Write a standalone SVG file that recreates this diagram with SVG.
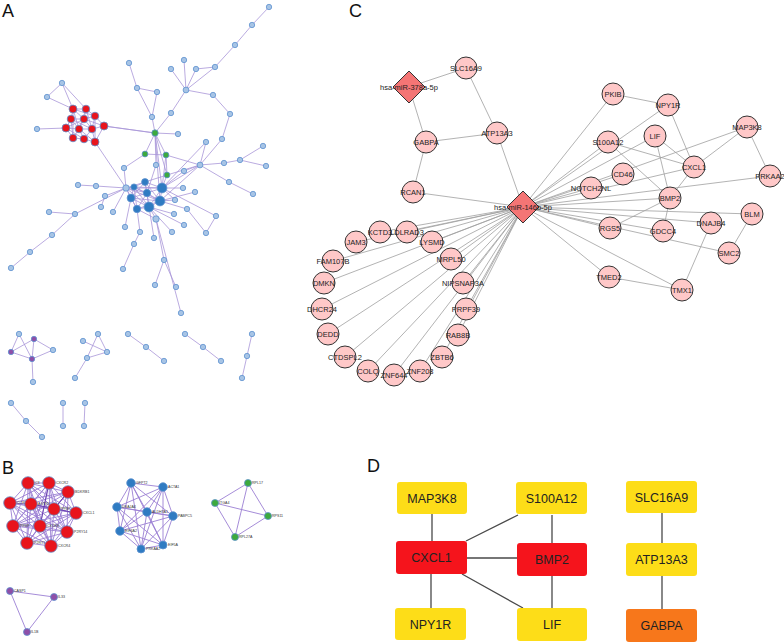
<svg xmlns="http://www.w3.org/2000/svg" width="784" height="644" viewBox="0 0 784 644">
<style>
.pl{font-family:"Liberation Sans",Arial,sans-serif;font-size:18px;fill:#111}
.ea{stroke:#A895D8;stroke-width:0.8;fill:none}
.eb{stroke:#9B7FD4;stroke-width:0.9;fill:none}
.ec{stroke:#A0A0A0;stroke-width:0.8;fill:none}
.ed{stroke:#4A4A4A;stroke-width:1.3;fill:none}
.lt{fill:#A7C4E5;stroke:#5E92CF;stroke-width:0.8}
.gr{fill:#3DAA3D;stroke:#5E92CF;stroke-width:0.8}
.rd{fill:#E8141C;stroke:#5E92CF;stroke-width:0.8}
.bl{fill:#2F7BC2;stroke:#5E92CF;stroke-width:0.8}
.pu{fill:#8E4FA8;stroke:#5E92CF;stroke-width:0.8}
.tb{font-family:"Liberation Sans",Arial,sans-serif;font-size:3.6px;fill:#333}
.cn{fill:#FFC8C8;stroke:#333;stroke-width:1}
.dm{fill:#F47575;stroke:#333;stroke-width:1}
.tc{font-family:"Liberation Sans",Arial,sans-serif;font-size:7.5px;fill:#222;text-anchor:middle}
.ty{fill:#FDDD18}
.tr{fill:#F5141C}
.to{fill:#F7771B}
.td{font-family:"Liberation Sans",Arial,sans-serif;font-size:12.5px;fill:#222;text-anchor:middle}
</style>

<text class="pl" x="2" y="17">A</text>
<text class="pl" x="2" y="474">B</text>
<text class="pl" x="349" y="17">C</text>
<text class="pl" x="367" y="472">D</text>

<!-- ===== Panel A connectors ===== -->
<g id="connectors-A">
<path class="ea" d="M269 7L252 25M252 25L235 45M235 45L215 67M215 67L196 69M215 67L186 90M186 90L184 60M186 90L171 69M186 90L196 69M186 90L213 95M213 95L230 114M230 114L222 139M222 139L200 165M186 90L171 113M171 113L155 133M129 63L137 88M137 88L157 92M137 88L152 117M152 117L155 133M155 133L178 134M155 133L145 154M155 133L166 155M155 133L167 175M155 133L104 126M155 133L162 188M155 133L160 201M145 154L166 155M145 154L124 168M124 168L126 188M166 155L200 165M166 155L167 175M166 155L162 188M167 175L162 188M167 175L145 182M167 175L200 165M156 165L147 193M156 165L155 133M200 165L206 142M200 165L224 163M224 163L240 160M240 160L263 146M240 160L266 166M200 165L229 182M229 182L253 194M200 165L184 171M200 165L162 188M200 165L160 201M206 142L162 188M184 171L162 188M183 188L162 188M195 192L160 201M175 200L160 201M175 200L162 188M187 209L160 201M216 216L206 233M206 233L187 209M216 216L162 188M174 214L149 207M184 225L149 207M172 232L149 207M156 219L149 207M156 219L137 209M154 238L149 207M156 219L164 260M164 260L155 285M164 260L176 287M156 219L181 313M140 232L137 209M140 232L134 244M134 244L123 269M125 227L131 198M113 212L126 188M101 207L105 196M105 196L126 188M96 186L126 188M96 186L78 185M126 188L75 214M75 214L49 212M75 214L52 235M52 235L30 252M30 252L11 268M95 142L126 188M126 188L134 187M126 188L131 198M126 188L162 188M126 188L145 182M126 188L147 193M126 188L160 201M126 188L149 207M126 188L137 209M157 92L152 117"/>
<path class="ea" d="M134 187L145 182M134 187L162 188M134 187L147 193M134 187L131 198M134 187L160 201M134 187L149 207M134 187L137 209M145 182L162 188M145 182L147 193M145 182L131 198M145 182L160 201M145 182L149 207M162 188L147 193M162 188L160 201M162 188L149 207M147 193L131 198M147 193L160 201M147 193L149 207M147 193L137 209M131 198L160 201M131 198L149 207M131 198L137 209M160 201L149 207M160 201L137 209M149 207L137 209"/>
<path class="ea" d="M62 83L47 97M62 83L73 109M47 97L73 109M37 129L66 128M62 83L86 109M73 109L86 109M73 109L71 119M73 109L84 119M73 109L95 116M73 109L79 129M86 109L84 119M86 109L95 116M86 109L92 129M71 119L84 119M71 119L66 128M71 119L79 129M71 119L73 138M84 119L95 116M84 119L79 129M84 119L92 129M84 119L104 126M95 116L92 129M95 116L104 126M66 128L79 129M66 128L73 138M66 128L84 139M79 129L92 129M79 129L73 138M79 129L84 139M79 129L95 142M92 129L104 126M92 129L84 139M92 129L95 142M104 126L95 142M73 138L84 139M84 139L95 142M71 119L92 129M86 109L79 129M66 128L84 119M95 116L95 142M73 109L73 138M104 126L155 133"/>
<path class="ea" d="M19 334L11 352M19 334L32 359M34 339L11 352M34 339L32 359M34 339L53 350M11 352L32 359M32 359L53 350M32 359L33 382M98 334L107 352M98 334L87 358M83 341L107 352M107 352L87 358M87 358L75 378M128 334L146 347M146 347L164 361M185 334L203 347M203 347L221 361M252 334L247 356M247 356L242 378M11 403L26 421M26 421L42 437M63 403L63 426M85 403L84 426"/>
</g>

<!-- ===== Panel A nodes ===== -->
<g id="nodes-A">
<g id="a-light">
<circle class="lt" cx="269" cy="7" r="2.7"/><circle class="lt" cx="252" cy="25" r="2.7"/><circle class="lt" cx="235" cy="45" r="2.7"/><circle class="lt" cx="215" cy="67" r="2.7"/><circle class="lt" cx="186" cy="90" r="2.9"/><circle class="lt" cx="184" cy="60" r="2.7"/><circle class="lt" cx="171" cy="69" r="2.7"/><circle class="lt" cx="196" cy="69" r="2.7"/><circle class="lt" cx="213" cy="95" r="2.7"/><circle class="lt" cx="230" cy="114" r="2.7"/><circle class="lt" cx="222" cy="139" r="2.7"/><circle class="lt" cx="171" cy="113" r="2.7"/><circle class="lt" cx="129" cy="63" r="2.7"/><circle class="lt" cx="137" cy="88" r="2.7"/><circle class="lt" cx="157" cy="92" r="2.7"/><circle class="lt" cx="152" cy="117" r="2.7"/><circle class="lt" cx="178" cy="134" r="2.7"/><circle class="lt" cx="156" cy="165" r="2.7"/><circle class="lt" cx="124" cy="168" r="2.7"/><circle class="lt" cx="200" cy="165" r="2.9"/><circle class="lt" cx="206" cy="142" r="2.7"/><circle class="lt" cx="224" cy="163" r="2.7"/><circle class="lt" cx="240" cy="160" r="2.7"/><circle class="lt" cx="263" cy="146" r="2.7"/><circle class="lt" cx="266" cy="166" r="2.7"/><circle class="lt" cx="229" cy="182" r="2.7"/><circle class="lt" cx="253" cy="194" r="2.7"/><circle class="lt" cx="184" cy="171" r="2.7"/><circle class="lt" cx="183" cy="188" r="2.7"/><circle class="lt" cx="195" cy="192" r="2.7"/><circle class="lt" cx="175" cy="200" r="2.7"/><circle class="lt" cx="187" cy="209" r="2.7"/><circle class="lt" cx="216" cy="216" r="2.7"/><circle class="lt" cx="206" cy="233" r="2.7"/><circle class="lt" cx="174" cy="214" r="2.7"/><circle class="lt" cx="184" cy="225" r="2.7"/><circle class="lt" cx="172" cy="232" r="2.7"/><circle class="lt" cx="156" cy="219" r="3.2"/><circle class="lt" cx="154" cy="238" r="2.7"/><circle class="lt" cx="164" cy="260" r="2.7"/><circle class="lt" cx="155" cy="285" r="2.7"/><circle class="lt" cx="176" cy="287" r="2.7"/><circle class="lt" cx="181" cy="313" r="2.7"/><circle class="lt" cx="140" cy="232" r="2.7"/><circle class="lt" cx="134" cy="244" r="2.7"/><circle class="lt" cx="123" cy="269" r="2.7"/><circle class="lt" cx="125" cy="227" r="2.7"/><circle class="lt" cx="113" cy="212" r="2.7"/><circle class="lt" cx="101" cy="207" r="2.7"/><circle class="lt" cx="105" cy="196" r="2.7"/><circle class="lt" cx="96" cy="186" r="2.7"/><circle class="lt" cx="78" cy="185" r="2.7"/><circle class="lt" cx="75" cy="214" r="2.7"/><circle class="lt" cx="49" cy="212" r="2.7"/><circle class="lt" cx="52" cy="235" r="2.7"/><circle class="lt" cx="30" cy="252" r="2.7"/><circle class="lt" cx="11" cy="268" r="2.7"/><circle class="lt" cx="126" cy="188" r="3.2"/><circle class="lt" cx="62" cy="83" r="2.7"/><circle class="lt" cx="47" cy="97" r="2.7"/><circle class="lt" cx="37" cy="129" r="2.7"/>
<circle class="lt" cx="19" cy="334" r="2.7"/><circle class="lt" cx="53" cy="350" r="2.7"/><circle class="lt" cx="33" cy="382" r="2.7"/><circle class="lt" cx="98" cy="334" r="2.7"/><circle class="lt" cx="83" cy="341" r="2.7"/><circle class="lt" cx="107" cy="352" r="2.7"/><circle class="lt" cx="87" cy="358" r="2.7"/><circle class="lt" cx="75" cy="378" r="2.7"/><circle class="lt" cx="128" cy="334" r="2.7"/><circle class="lt" cx="146" cy="347" r="2.7"/><circle class="lt" cx="164" cy="361" r="2.7"/><circle class="lt" cx="185" cy="334" r="2.7"/><circle class="lt" cx="203" cy="347" r="2.7"/><circle class="lt" cx="221" cy="361" r="2.7"/><circle class="lt" cx="252" cy="334" r="2.7"/><circle class="lt" cx="247" cy="356" r="2.7"/><circle class="lt" cx="242" cy="378" r="2.7"/><circle class="lt" cx="11" cy="403" r="2.7"/><circle class="lt" cx="26" cy="421" r="2.7"/><circle class="lt" cx="42" cy="437" r="2.7"/><circle class="lt" cx="63" cy="403" r="2.7"/><circle class="lt" cx="63" cy="426" r="2.7"/><circle class="lt" cx="85" cy="403" r="2.7"/><circle class="lt" cx="84" cy="426" r="2.7"/>
</g>
<g id="a-green"><circle class="gr" cx="155" cy="133" r="3.2"/><circle class="gr" cx="145" cy="154" r="2.9"/><circle class="gr" cx="166" cy="155" r="2.9"/><circle class="gr" cx="167" cy="175" r="2.9"/></g>
<g id="a-purple"><circle class="pu" cx="34" cy="339" r="2.7"/><circle class="pu" cx="11" cy="352" r="2.7"/><circle class="pu" cx="32" cy="359" r="2.7"/></g>
<g id="a-blue"><circle class="bl" cx="134" cy="187" r="3.1"/><circle class="bl" cx="145" cy="182" r="3.4"/><circle class="bl" cx="162" cy="188" r="4.9"/><circle class="bl" cx="147" cy="193" r="3.7"/><circle class="bl" cx="131" cy="198" r="3.9"/><circle class="bl" cx="160" cy="201" r="4.9"/><circle class="bl" cx="149" cy="207" r="4.9"/><circle class="bl" cx="137" cy="209" r="3.7"/></g>
<g id="a-red"><circle class="rd" cx="73" cy="109" r="4"/><circle class="rd" cx="86" cy="109" r="3.8"/><circle class="rd" cx="71" cy="119" r="3.8"/><circle class="rd" cx="84" cy="119" r="3.8"/><circle class="rd" cx="95" cy="116" r="3.8"/><circle class="rd" cx="66" cy="128" r="4"/><circle class="rd" cx="79" cy="129" r="3.8"/><circle class="rd" cx="92" cy="129" r="3.8"/><circle class="rd" cx="104" cy="126" r="4"/><circle class="rd" cx="73" cy="138" r="3.8"/><circle class="rd" cx="84" cy="139" r="3.8"/><circle class="rd" cx="95" cy="142" r="4"/></g>
</g>

<!-- ===== Panel B ===== -->
<g id="connectors-B">
<path class="eb" d="M28 483L49 483M28 483L68 492M28 483L10 503M28 483L31 504M28 483L54 509M28 483L76 513M28 483L13 526M28 483L40 526M28 483L67 532M28 483L27 543M28 483L51 546M49 483L68 492M49 483L10 503M49 483L31 504M49 483L54 509M49 483L76 513M49 483L13 526M49 483L40 526M49 483L67 532M49 483L27 543M49 483L51 546M68 492L10 503M68 492L31 504M68 492L54 509M68 492L76 513M68 492L13 526M68 492L40 526M68 492L67 532M68 492L27 543M68 492L51 546M10 503L31 504M10 503L54 509M10 503L76 513M10 503L13 526M10 503L40 526M10 503L67 532M10 503L27 543M10 503L51 546M31 504L54 509M31 504L76 513M31 504L13 526M31 504L40 526M31 504L67 532M31 504L27 543M31 504L51 546M54 509L76 513M54 509L13 526M54 509L40 526M54 509L67 532M54 509L27 543M54 509L51 546M76 513L13 526M76 513L40 526M76 513L67 532M76 513L27 543M76 513L51 546M13 526L40 526M13 526L67 532M13 526L27 543M13 526L51 546M40 526L67 532M40 526L27 543M40 526L51 546M67 532L27 543M67 532L51 546M27 543L51 546"/>
<path d="M49 483L40 526M68 492L54 509M31 504L76 513" stroke="#6A3FB0" stroke-width="1" fill="none"/>
<path class="eb" d="M131 483L163 487M131 483L117 507M131 483L147 512M131 483L173 516M131 483L120 531M131 483L163 545M131 483L141 549M163 487L117 507M163 487L147 512M163 487L173 516M163 487L120 531M163 487L163 545M163 487L141 549M117 507L147 512M117 507L173 516M117 507L120 531M117 507L163 545M117 507L141 549M147 512L173 516M147 512L120 531M147 512L163 545M147 512L141 549M173 516L120 531M173 516L163 545M173 516L141 549M120 531L163 545M120 531L141 549M163 545L141 549"/>
<path class="eb" d="M248 483L215 503M248 483L268 516M248 483L235 537M215 503L268 516M215 503L235 537M268 516L235 537M10 591L54 597M10 591L27 632M54 597L27 632"/>
</g>
<g id="nodes-B">
<g id="b-C3"><circle class="rd" cx="28" cy="483" r="6.3"/><text class="tb" x="35" y="484">C3</text></g>
<g id="b-CXCR2"><circle class="rd" cx="49" cy="483" r="6.3"/><text class="tb" x="56" y="484">CXCR2</text></g>
<g id="b-BDKRB1"><circle class="rd" cx="68" cy="492" r="6.3"/><text class="tb" x="75" y="493">BDKRB1</text></g>
<g id="b-CCR2"><circle class="rd" cx="10" cy="503" r="6.3"/><text class="tb" x="17" y="504">CCR2</text></g>
<g id="b-AGTR1"><circle class="rd" cx="31" cy="504" r="6.3"/><text class="tb" x="38" y="505">AGTR1</text></g>
<g id="b-PPBP"><circle class="rd" cx="54" cy="509" r="6.3"/><text class="tb" x="61" y="510">PPBP</text></g>
<g id="b-CXCL1"><circle class="rd" cx="76" cy="513" r="6.3"/><text class="tb" x="83" y="514">CXCL1</text></g>
<g id="b-PF4"><circle class="rd" cx="13" cy="526" r="6.3"/><text class="tb" x="20" y="527">PPBP</text></g>
<g id="b-CXCR6"><circle class="rd" cx="40" cy="526" r="6.3"/><text class="tb" x="47" y="527">CXCR6</text></g>
<g id="b-P2RY14"><circle class="rd" cx="67" cy="532" r="6.3"/><text class="tb" x="74" y="533">P2RY14</text></g>
<g id="b-P2RY1"><circle class="rd" cx="27" cy="543" r="6.3"/><text class="tb" x="34" y="544">P2RY1</text></g>
<g id="b-CXCR4"><circle class="rd" cx="51" cy="546" r="6.3"/><text class="tb" x="58" y="547">CXCR4</text></g>
<g id="b-GFPT2"><circle class="bl" cx="131" cy="483" r="4.3"/><text class="tb" x="136" y="484">GFPT2</text></g>
<g id="b-ACTA1"><circle class="bl" cx="163" cy="487" r="4.3"/><text class="tb" x="168" y="488">ACTA1</text></g>
<g id="b-DNAJA4"><circle class="bl" cx="117" cy="507" r="4.3"/><text class="tb" x="122" y="508">DNAJA4</text></g>
<g id="b-ALDH7A1"><circle class="bl" cx="147" cy="512" r="4.3"/><text class="tb" x="152" y="513">ALDH7A1</text></g>
<g id="b-PABPC5"><circle class="bl" cx="173" cy="516" r="4.3"/><text class="tb" x="178" y="517">PABPC5</text></g>
<g id="b-EIF4A2"><circle class="bl" cx="120" cy="531" r="4.3"/><text class="tb" x="125" y="532">EIF4A2</text></g>
<g id="b-EIF5A"><circle class="bl" cx="163" cy="545" r="4"/><text class="tb" x="168" y="546">EIF5A</text></g>
<g id="b-PRKAA2"><circle class="bl" cx="141" cy="549" r="4"/><text class="tb" x="146" y="550">PRKAA2</text></g>
<g id="b-RPL17"><circle class="gr" cx="248" cy="483" r="3.5"/><text class="tb" x="252" y="484">RPL17</text></g>
<g id="b-ITGA4"><circle class="gr" cx="215" cy="503" r="3.5"/><text class="tb" x="219" y="504">ITGA4</text></g>
<g id="b-RPS11"><circle class="gr" cx="268" cy="516" r="3.5"/><text class="tb" x="272" y="517">RPS11</text></g>
<g id="b-RPL27A"><circle class="gr" cx="235" cy="537" r="3.5"/><text class="tb" x="239" y="538">RPL27A</text></g>
<g id="b-CASP1"><circle class="pu" cx="10" cy="591" r="3.5"/><text class="tb" x="14" y="592">CASP1</text></g>
<g id="b-IL33"><circle class="pu" cx="54" cy="597" r="3.5"/><text class="tb" x="58" y="598">IL33</text></g>
<g id="b-IL1B"><circle class="pu" cx="27" cy="632" r="3.5"/><text class="tb" x="31" y="633">IL1B</text></g>
</g>

<!-- ===== Panel C ===== -->
<g id="connectors-C">
<path class="ec" d="M409 87L466 68M409 87L426 142M466 68L497 133M426 142L497 133M426 142L413 192M497 133L523 207M413 192L523 207M613 94L668 105M668 105L694 167M747 127L694 167M747 127L770 176M608 142L694 167M608 142L670 198M655 136L694 167M655 136L670 198M694 167L670 198M670 198L610 228M670 198L663 231M711 223L682 290M752 214L729 253M609 277L682 290"/>
<path class="ec" d="M523 207L613 94M523 207L668 105M523 207L608 142M523 207L655 136M523 207L623 174M523 207L694 167M523 207L747 127M523 207L591 188M523 207L670 198M523 207L770 176M523 207L752 214M523 207L711 223M523 207L610 228M523 207L663 231M523 207L729 253M523 207L609 277M523 207L682 290M523 207L380 232M523 207L407 232M523 207L356 242M523 207L432 242M523 207L333 261M523 207L451 259M523 207L324 283M523 207L463 283M523 207L322 309M523 207L466 309M523 207L328 334M523 207L458 335M523 207L345 357M523 207L442 357M523 207L368 371M523 207L420 371M523 207L394 375"/>
</g>
<g id="nodes-C">
<g id="c-miR378"><polygon class="dm" points="409,71 425,87 409,103 393,87"/><text class="tc" x="409" y="90">hsa-miR-378a-5p</text></g>
<g id="c-miR146"><polygon class="dm" points="523,191 539,207 523,223 507,207"/><text class="tc" x="523" y="210">hsa-miR-146b-5p</text></g>
<g id="c-SLC16A9"><circle class="cn" cx="466" cy="68" r="11"/><text class="tc" x="466" y="71">SLC16A9</text></g>
<g id="c-GABPA"><circle class="cn" cx="426" cy="142" r="11"/><text class="tc" x="426" y="145">GABPA</text></g>
<g id="c-ATP13A3"><circle class="cn" cx="497" cy="133" r="11"/><text class="tc" x="497" y="136">ATP13A3</text></g>
<g id="c-RCAN1"><circle class="cn" cx="413" cy="192" r="11"/><text class="tc" x="413" y="195">RCAN1</text></g>
<g id="c-PKIB"><circle class="cn" cx="613" cy="94" r="11"/><text class="tc" x="613" y="97">PKIB</text></g>
<g id="c-NPY1R"><circle class="cn" cx="668" cy="105" r="11"/><text class="tc" x="668" y="108">NPY1R</text></g>
<g id="c-MAP3K8"><circle class="cn" cx="747" cy="127" r="11"/><text class="tc" x="747" y="130">MAP3K8</text></g>
<g id="c-S100A12"><circle class="cn" cx="608" cy="142" r="11"/><text class="tc" x="608" y="145">S100A12</text></g>
<g id="c-LIF"><circle class="cn" cx="655" cy="136" r="11"/><text class="tc" x="655" y="139">LIF</text></g>
<g id="c-CXCL1"><circle class="cn" cx="694" cy="167" r="11"/><text class="tc" x="694" y="170">CXCL1</text></g>
<g id="c-CD46"><circle class="cn" cx="623" cy="174" r="11"/><text class="tc" x="623" y="177">CD46</text></g>
<g id="c-PRKAA2"><circle class="cn" cx="770" cy="176" r="11"/><text class="tc" x="770" y="179">PRKAA2</text></g>
<g id="c-NOTCH2NL"><circle class="cn" cx="591" cy="188" r="11"/><text class="tc" x="591" y="191">NOTCH2NL</text></g>
<g id="c-BMP2"><circle class="cn" cx="670" cy="198" r="11"/><text class="tc" x="670" y="201">BMP2</text></g>
<g id="c-BLM"><circle class="cn" cx="752" cy="214" r="11"/><text class="tc" x="752" y="217">BLM</text></g>
<g id="c-DNAJB4"><circle class="cn" cx="711" cy="223" r="11"/><text class="tc" x="711" y="226">DNAJB4</text></g>
<g id="c-RGS5"><circle class="cn" cx="610" cy="228" r="11"/><text class="tc" x="610" y="231">RGS5</text></g>
<g id="c-GDCC4"><circle class="cn" cx="663" cy="231" r="11"/><text class="tc" x="663" y="234">GDCC4</text></g>
<g id="c-SMC2"><circle class="cn" cx="729" cy="253" r="11"/><text class="tc" x="729" y="256">SMC2</text></g>
<g id="c-TMED2"><circle class="cn" cx="609" cy="277" r="11"/><text class="tc" x="609" y="280">TMED2</text></g>
<g id="c-TMX1"><circle class="cn" cx="682" cy="290" r="11"/><text class="tc" x="682" y="293">TMX1</text></g>
<g id="c-KCTD3"><circle class="cn" cx="380" cy="232" r="11"/><text class="tc" x="380" y="235">KCTD3</text></g>
<g id="c-LDLRAD3"><circle class="cn" cx="407" cy="232" r="11"/><text class="tc" x="407" y="235">LDLRAD3</text></g>
<g id="c-JAM3"><circle class="cn" cx="356" cy="242" r="11"/><text class="tc" x="356" y="245">JAM3</text></g>
<g id="c-LYSMD"><circle class="cn" cx="432" cy="242" r="11"/><text class="tc" x="432" y="245">LYSMD</text></g>
<g id="c-FAM107B"><circle class="cn" cx="333" cy="261" r="11"/><text class="tc" x="333" y="264">FAM107B</text></g>
<g id="c-MRPL50"><circle class="cn" cx="451" cy="259" r="11"/><text class="tc" x="451" y="262">MRPL50</text></g>
<g id="c-DMKN"><circle class="cn" cx="324" cy="283" r="11"/><text class="tc" x="324" y="286">DMKN</text></g>
<g id="c-NIPSNAP3A"><circle class="cn" cx="463" cy="283" r="11"/><text class="tc" x="463" y="286">NIPSNAP3A</text></g>
<g id="c-DHCR24"><circle class="cn" cx="322" cy="309" r="11"/><text class="tc" x="322" y="312">DHCR24</text></g>
<g id="c-PRPF39"><circle class="cn" cx="466" cy="309" r="11"/><text class="tc" x="466" y="312">PRPF39</text></g>
<g id="c-DEDD"><circle class="cn" cx="328" cy="334" r="11"/><text class="tc" x="328" y="337">DEDD</text></g>
<g id="c-RAB8B"><circle class="cn" cx="458" cy="335" r="11"/><text class="tc" x="458" y="338">RAB8B</text></g>
<g id="c-CTDSPL2"><circle class="cn" cx="345" cy="357" r="11"/><text class="tc" x="345" y="360">CTDSPL2</text></g>
<g id="c-ZBTB6"><circle class="cn" cx="442" cy="357" r="11"/><text class="tc" x="442" y="360">ZBTB6</text></g>
<g id="c-COLQ"><circle class="cn" cx="368" cy="371" r="11"/><text class="tc" x="368" y="374">COLQ</text></g>
<g id="c-ZNF208"><circle class="cn" cx="420" cy="371" r="11"/><text class="tc" x="420" y="374">ZNF208</text></g>
<g id="c-ZNF644"><circle class="cn" cx="394" cy="375" r="11"/><text class="tc" x="394" y="378">ZNF644</text></g>
</g>

<!-- ===== Panel D ===== -->
<g id="connectors-D">
<path class="ed" d="M432 514L432 541M466 541L518 515M467 558L517 558M431 574L431 608M462 574L523 608M552 515L552 543M552 576L552 608M662 513L662 543M662 576L662 609"/>
</g>
<g id="nodes-D">
<g id="d-MAP3K8"><rect class="ty" x="397" y="482" width="70" height="32" rx="3"/><text class="td" x="432" y="502.5">MAP3K8</text></g>
<g id="d-S100A12"><rect class="ty" x="516" y="482" width="71" height="32" rx="3"/><text class="td" x="551.5" y="502.5">S100A12</text></g>
<g id="d-SLC16A9"><rect class="ty" x="626" y="481" width="71" height="32" rx="3"/><text class="td" x="661.5" y="501.5">SLC16A9</text></g>
<g id="d-CXCL1"><rect class="tr" x="396" y="541" width="71" height="33" rx="3"/><text class="td" x="431.5" y="562">CXCL1</text></g>
<g id="d-BMP2"><rect class="tr" x="517" y="543" width="70" height="33" rx="3"/><text class="td" x="552" y="564">BMP2</text></g>
<g id="d-ATP13A3"><rect class="ty" x="626" y="543" width="71" height="33" rx="3"/><text class="td" x="661.5" y="564">ATP13A3</text></g>
<g id="d-NPY1R"><rect class="ty" x="395" y="608" width="71" height="32" rx="3"/><text class="td" x="430.5" y="628.5">NPY1R</text></g>
<g id="d-LIF"><rect class="ty" x="517" y="608" width="70" height="33" rx="3"/><text class="td" x="552" y="629">LIF</text></g>
<g id="d-GABPA"><rect class="to" x="626" y="609" width="71" height="33" rx="3"/><text class="td" x="661.5" y="630">GABPA</text></g>
</g>
</svg>
